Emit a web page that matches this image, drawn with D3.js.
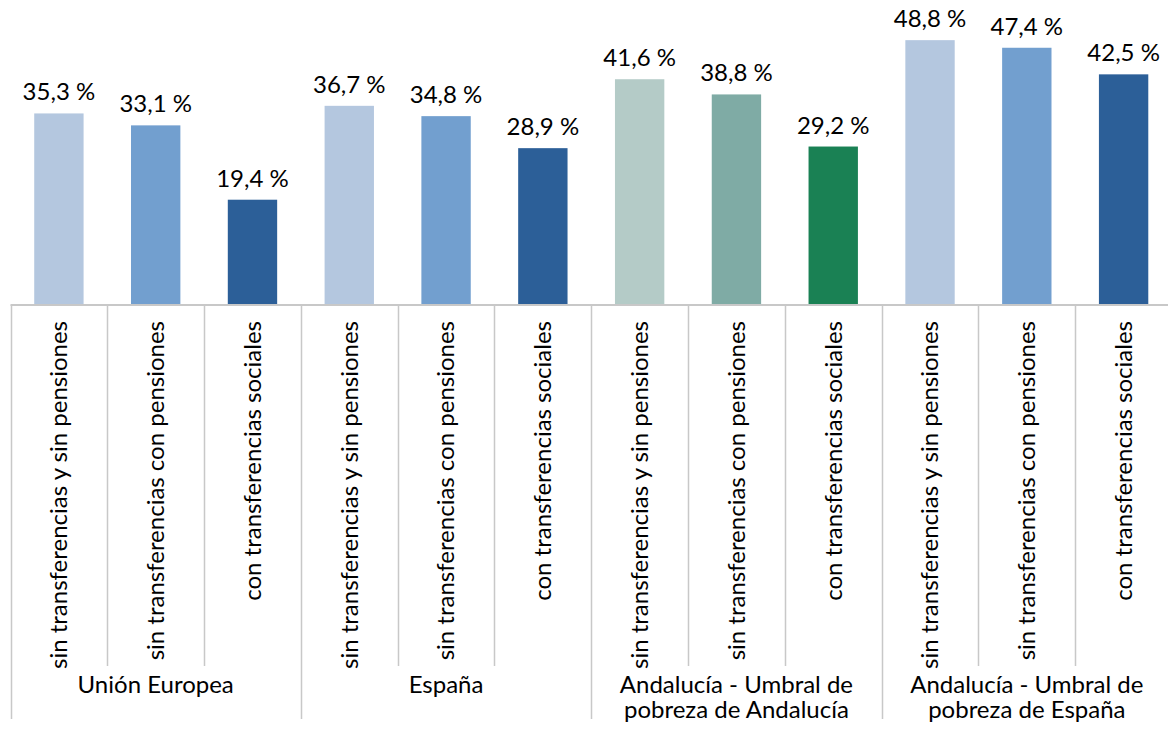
<!DOCTYPE html>
<html>
<head>
<meta charset="utf-8">
<script src="https://cdn.jsdelivr.net/npm/d3@7"></script>
<style>
  body { margin: 0; background: #fff; }
  text { font-family: Lato, "Open Sans", sans-serif; fill: #000; }
</style>
</head>
<body>
<div id="chart"></div>
<script>
// data
var groups = ["Unión Europea", "España", "Andalucía - Umbral de pobreza de Andalucía", "Andalucía - Umbral de pobreza de España"];
var groupLines = [["Unión Europea"], ["España"], ["Andalucía - Umbral de", "pobreza de Andalucía"], ["Andalucía - Umbral de", "pobreza de España"]];
var series = ["sin transferencias y sin pensiones", "sin transferencias con pensiones", "con transferencias sociales"];
var values = [
  [35.3, 33.1, 19.4],
  [36.7, 34.8, 28.9],
  [41.6, 38.8, 29.2],
  [48.8, 47.4, 42.5]
];
var bluePalette = ["#b4c7df", "#729fcf", "#2c5f98"];
var greenPalette = ["#b4cbc7", "#7faba5", "#1a8154"];

var width = 1168, height = 729;
var baseY = 305;
var fontSize = "24px";

var rows = [];
groups.forEach(function(g, gi) {
  series.forEach(function(s, si) {
    rows.push({key: gi + "-" + si, group: gi, serie: s, si: si, value: values[gi][si]});
  });
});

var x = d3.scaleBand()
    .domain(rows.map(function(d) { return d.key; }))
    .range([10.5, 1172])
    .paddingInner(0.49)
    .paddingOuter(0.245);

var y = d3.scaleLinear().domain([0, 56.2]).range([baseY, 0]);

var color = function(d) {
  return (d.group === 2 ? greenPalette : bluePalette)[d.si];
};

var svg = d3.select("#chart").append("svg")
    .attr("width", width)
    .attr("height", height);

// bars
svg.selectAll(".bar")
  .data(rows)
  .enter().append("rect")
    .attr("class", "bar")
    .attr("x", function(d) { return x(d.key); })
    .attr("y", function(d) { return y(d.value); })
    .attr("width", x.bandwidth())
    .attr("height", function(d) { return baseY - y(d.value); })
    .style("fill", color);

// value labels
svg.selectAll(".val")
  .data(rows)
  .enter().append("text")
    .attr("class", "val")
    .attr("x", function(d) { return x(d.key) + x.bandwidth() / 2; })
    .attr("y", function(d) { return y(d.value) - 13; })
    .attr("text-anchor", "middle")
    .style("font-size", fontSize)
    .text(function(d) { return d3.format(".1f")(d.value).replace(".", ",") + " %"; });

// axis line and ticks
var step = x.step();
var left = x.range()[0];
svg.append("line")
    .attr("x1", left).attr("x2", x.range()[1])
    .attr("y1", baseY).attr("y2", baseY)
    .style("stroke", "#c8c8c8").style("stroke-width", 2);

var tickIdx = d3.range(rows.length + 1);
svg.selectAll(".tick")
  .data(tickIdx)
  .enter().append("line")
    .attr("class", "tick")
    .attr("x1", function(i) { return Math.round(left + i * step) + 0.5; })
    .attr("x2", function(i) { return Math.round(left + i * step) + 0.5; })
    .attr("y1", baseY)
    .attr("y2", function(i) { return i % 3 === 0 ? 719 : 666; })
    .style("stroke", "#c8c8c8").style("stroke-width", 1.5);

// category labels (rotated)
svg.selectAll(".cat")
  .data(rows)
  .enter().append("text")
    .attr("class", "cat")
    .attr("transform", function(d) {
      return "translate(" + (x(d.key) + x.bandwidth() / 2) + "," + 321 + ") rotate(-90)";
    })
    .attr("dy", "0.35em")
    .attr("text-anchor", "end")
    .style("font-size", fontSize)
    .text(function(d) { return d.serie; });

// group labels, one text per line (tight line spacing as in the original)
var grpLabels = [];
groupLines.forEach(function(lines, gi) {
  lines.forEach(function(t, li) {
    grpLabels.push({text: t, group: gi, line: li});
  });
});

svg.selectAll(".grp")
  .data(grpLabels)
  .enter().append("text")
    .attr("class", "grp")
    .attr("x", function(d) { return left + (d.group * 3 + 1.5) * step; })
    .attr("y", function(d) { return 693 + d.line * 25; })
    .attr("text-anchor", "middle")
    .style("font-size", fontSize)
    .text(function(d) { return d.text; });
</script>
</body>
</html>
